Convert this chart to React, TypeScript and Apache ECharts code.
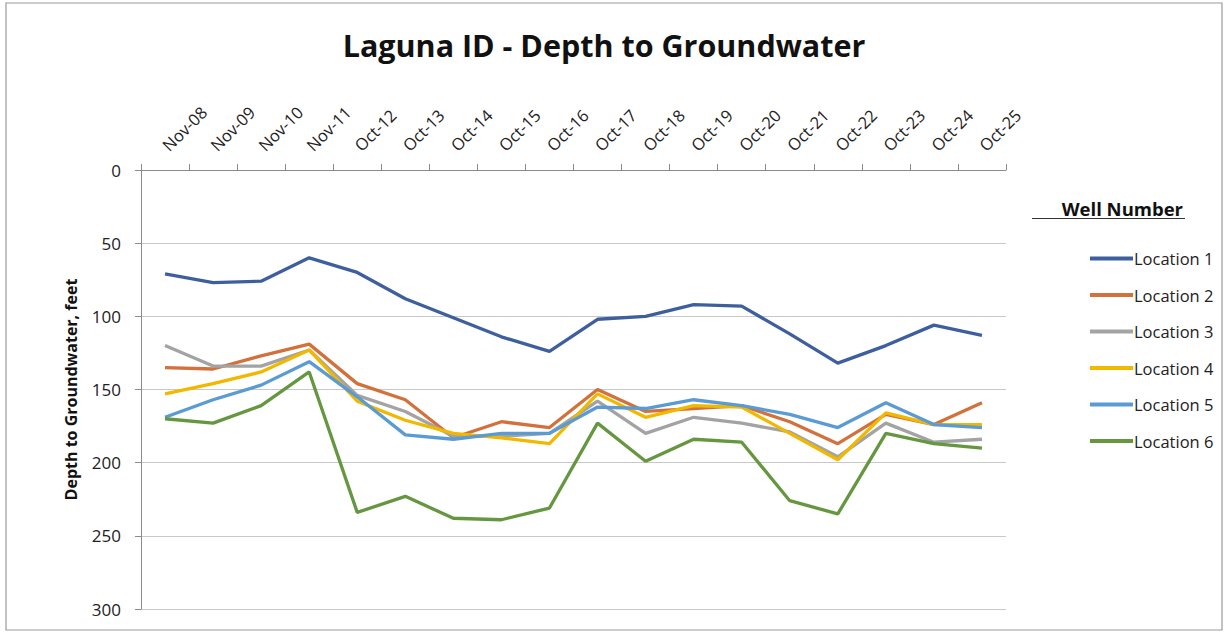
import React, { useEffect, useRef } from "react";
import * as echarts from "echarts";

const categories = [
  "Nov-08", "Nov-09", "Nov-10", "Nov-11", "Oct-12", "Oct-13", "Oct-14", "Oct-15", "Oct-16",
  "Oct-17", "Oct-18", "Oct-19", "Oct-20", "Oct-21", "Oct-22", "Oct-23", "Oct-24", "Oct-25",
];

const location1 = [71, 77, 76, 60, 70, 88, 101, 114, 124, 102, 100, 92, 93, 112, 132, 120, 106, 113];
const location2 = [135, 136, 127, 119, 146, 157, 183, 172, 176, 150, 165, 163, 161, 172, 187, 167, 174, 159];
const location3 = [120, 134, 134, 123, 154, 165, 182, 182, 180, 158, 180, 169, 173, 179, 196, 173, 186, 184];
const location4 = [153, 146, 138, 123, 158, 171, 180, 183, 187, 153, 169, 161, 162, 180, 198, 166, 174, 174];
const location5 = [169, 157, 147, 131, 155, 181, 184, 180, 180, 162, 163, 157, 161, 167, 176, 159, 174, 176];
const location6 = [170, 173, 161, 138, 234, 223, 238, 239, 231, 173, 199, 184, 186, 226, 235, 180, 187, 190];

const seriesNames = ["Location 1", "Location 2", "Location 3", "Location 4", "Location 5", "Location 6"];
const seriesData = [location1, location2, location3, location4, location5, location6];
const colors = ["#3E5F9E", "#D2713B", "#A3A3A3", "#F2B800", "#5A9BD3", "#64973F"];

const FONT = "'Open Sans', Lato, sans-serif";

export default function App() {
  const ref = useRef<HTMLDivElement>(null);
  useEffect(() => {
    if (!ref.current) return;
    const chart = echarts.init(ref.current, null, { renderer: "svg" });
    chart.setOption({
      animation: false,
      backgroundColor: "#ffffff",
      color: colors,
      title: {
        text: "Laguna ID - Depth to Groundwater",
        left: 599,
        top: 24,
        textAlign: "center",
        textStyle: { fontFamily: FONT, fontSize: 30.5, fontWeight: "bold", color: "#111" },
      },
      legend: {
        orient: "vertical",
        left: 1085,
        top: 245,
        itemWidth: 43,
        itemHeight: 4,
        itemGap: 19.5,
        icon: "rect",
        data: seriesNames,
        textStyle: { fontFamily: FONT, fontSize: 16.5, color: "#222", padding: [0, 0, 0, -4] },
      },
      grid: { left: 141, right: 222, top: 170, bottom: 24, containLabel: false },
      xAxis: {
        type: "category",
        position: "top",
        data: categories,
        boundaryGap: true,
        axisLine: { lineStyle: { color: "#8c8c8c", width: 1 } },
        axisTick: { show: true, length: 6, lineStyle: { color: "#8c8c8c" } },
        axisLabel: {
          rotate: 45,
          interval: 0,
          margin: 22,
          fontFamily: FONT,
          fontSize: 16.5,
          color: "#222",
        },
        splitLine: { show: false },
      },
      yAxis: {
        type: "value",
        inverse: true,
        min: 0,
        max: 300,
        interval: 50,
        name: "Depth to Groundwater, feet",
        nameLocation: "middle",
        nameGap: 62,
        nameRotate: 90,
        nameTextStyle: { fontFamily: FONT, fontSize: 16, fontWeight: "bold", color: "#111" },
        axisLine: { show: true, lineStyle: { color: "#8c8c8c" } },
        axisTick: { show: true, length: 6, lineStyle: { color: "#8c8c8c" } },
        axisLabel: { fontFamily: FONT, fontSize: 17, color: "#222", margin: 20 },
        splitLine: { show: true, lineStyle: { color: "#c8c8c8", width: 1 } },
      },
      series: seriesNames.map((name, i) => ({
        name,
        type: "line",
        data: seriesData[i],
        symbol: "none",
        lineStyle: { width: 3.3, color: colors[i] },
        itemStyle: { color: colors[i] },
      })),
      graphic: [
        {
          type: "rect",
          shape: { x: 6, y: 3, width: 1216, height: 627 },
          style: { fill: "none", stroke: "#9a9a9a", lineWidth: 1.2 },
          silent: true,
        },
        {
          type: "text",
          x: 1183,
          y: 208,
          style: {
            text: "Well Number",
            fontFamily: FONT,
            fontSize: 18.5,
            fontWeight: "bold",
            fill: "#111",
            align: "right",
            verticalAlign: "middle",
          },
        },
        {
          type: "line",
          shape: { x1: 1032, y1: 218.5, x2: 1185, y2: 218.5 },
          style: { stroke: "#333", lineWidth: 1.2 },
        },
      ],
    });
    return () => chart.dispose();
  }, []);
  return (
    <div
      ref={ref}
      style={{ position: "fixed", left: 0, top: 0, width: 1228, height: 633 }}
    />
  );
}
